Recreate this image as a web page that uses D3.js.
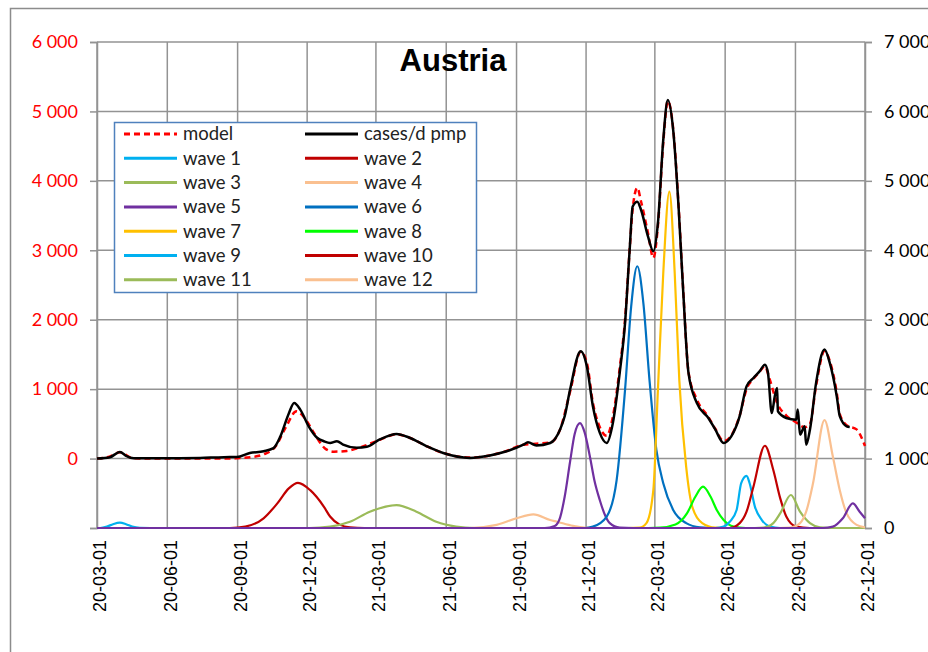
<!DOCTYPE html>
<html>
<head>
<meta charset="utf-8">
<script src="https://cdn.jsdelivr.net/npm/d3@7"></script>
<style>
  body { margin: 0; background: #fff; }
  text { font-family: Lato, "Liberation Sans", sans-serif; }
</style>
</head>
<body>
<svg id="chart" width="928" height="652"></svg>
<script>
// --- data ------------------------------------------------------------
const tickDates = ["2020-03-01", "2020-06-01", "2020-09-01", "2020-12-01", "2021-03-01", "2021-06-01",
  "2021-09-01", "2021-12-01", "2022-03-01", "2022-06-01", "2022-09-01", "2022-12-01"]
const leftTicks = [-1000, 0, 1000, 2000, 3000, 4000, 5000, 6000]
const rightTicks = [0, 1000, 2000, 3000, 4000, 5000, 6000, 7000]

// cases per day per million (left axis)
const cases = [["2020-03-01",0],["2020-03-18",20],["2020-03-31",95],["2020-04-08",40],["2020-04-18",5],["2020-05-22",3],
  ["2020-07-14",10],["2020-08-14",20],["2020-08-31",22],["2020-09-17",80],["2020-10-05",105],["2020-10-18",150],
  ["2020-10-27",320],["2020-11-07",650],["2020-11-14",800],["2020-11-22",705],["2020-12-03",465],["2020-12-14",300],
  ["2020-12-23",250],["2020-12-31",225],["2021-01-09",250],["2021-01-17",200],["2021-02-04",155],["2021-02-17",170],
  ["2021-03-06",275],["2021-03-28",355],["2021-04-14",300],["2021-05-06",180],["2021-05-28",80],["2021-07-02",10],
  ["2021-07-28",45],["2021-08-19",105],["2021-09-10",200],["2021-09-16",235],["2021-09-27",190],["2021-10-15",225],
  ["2021-10-28",420],["2021-11-03",610],["2021-11-10",990],["2021-11-24",1545],["2021-12-02",1330],["2021-12-10",750],
  ["2021-12-19",370],["2021-12-28",225],["2022-01-05",510],["2022-01-14",1235],["2022-01-21",1950],["2022-01-27",3000],
  ["2022-01-31",3630],["2022-02-06",3700],["2022-02-11",3580],["2022-02-20",3200],["2022-02-27",2985],["2022-03-05",3390],
  ["2022-03-12",4590],["2022-03-18",5165],["2022-03-25",4730],["2022-04-01",3630],["2022-04-07",2430],["2022-04-14",1235],
  ["2022-04-25",800],["2022-05-10",585],["2022-05-19",420],["2022-05-30",225],["2022-06-09",320],["2022-06-20",610],
  ["2022-06-29",1040],["2022-07-08",1160],["2022-07-16",1255],["2022-07-23",1350],["2022-07-27",1235],["2022-08-01",655],
  ["2022-08-05",900],["2022-08-08",1015],["2022-08-09",680],["2022-08-20",585],["2022-09-02",560],["2022-09-04",705],
  ["2022-09-07",345],["2022-09-13",465],["2022-09-15",200],["2022-09-20",420],["2022-09-28",1090],["2022-10-09",1570],
  ["2022-10-16",1375],["2022-10-25",900],["2022-10-29",610],["2022-11-07",465],["2022-11-11",455]]

// model (left axis)
const model = [["2020-03-01",0],["2020-03-18",30],["2020-03-31",90],["2020-04-17",5],["2020-05-15",0],["2020-08-22",0],
  ["2020-09-01",5],["2020-09-18",20],["2020-10-05",60],["2020-10-21",180],["2020-11-03",450],["2020-11-17",680],
  ["2020-11-28",580],["2020-12-11",350],["2020-12-24",150],["2021-01-05",100],["2021-01-22",110],["2021-02-08",160],
  ["2021-03-06",270],["2021-03-28",350],["2021-04-14",300],["2021-05-06",180],["2021-05-28",80],["2021-07-02",15],
  ["2021-07-28",45],["2021-08-19",110],["2021-09-10",200],["2021-09-27",215],["2021-10-15",230],["2021-10-28",420],
  ["2021-11-10",960],["2021-11-24",1540],["2021-12-02",1380],["2021-12-10",800],["2021-12-19",450],["2021-12-28",330],
  ["2022-01-05",600],["2022-01-14",1300],["2022-01-21",2000],["2022-01-27",3000],["2022-01-31",3600],["2022-02-06",3900],
  ["2022-02-11",3700],["2022-02-20",3250],["2022-02-27",2890],["2022-03-05",3350],["2022-03-12",4550],["2022-03-18",5150],
  ["2022-03-25",4750],["2022-04-01",3650],["2022-04-07",2450],["2022-04-14",1250],["2022-04-25",850],["2022-05-10",600],
  ["2022-05-19",430],["2022-05-30",250],["2022-06-09",330],["2022-06-20",620],["2022-06-29",1000],["2022-07-08",1150],
  ["2022-07-16",1250],["2022-07-23",1330],["2022-07-29",1150],["2022-08-08",800],["2022-08-20",620],["2022-09-02",520],
  ["2022-09-13",450],["2022-09-20",500],["2022-09-28",1050],["2022-10-09",1550],["2022-10-16",1400],["2022-10-25",950],
  ["2022-10-29",640],["2022-11-07",480],["2022-11-20",420],["2022-12-01",180]]

// single waves (right axis)
const wave1 = [["2020-03-01",0],["2020-03-05",0],["2020-03-14",20],["2020-03-22",55],["2020-03-31",77],["2020-04-08",55],
  ["2020-04-16",20],["2020-04-26",2],["2020-05-10",0],["2022-12-01",0]]
const wave2 = [["2020-03-01",0],["2020-08-22",0],["2020-09-11",20],["2020-10-05",140],["2020-10-23",355],["2020-11-07",570],
  ["2020-11-19",650],["2020-12-05",545],["2020-12-23",305],["2020-12-31",165],["2021-01-13",45],["2021-01-26",10],
  ["2021-02-14",0],["2022-12-01",0]]
const wave3 = [["2020-03-01",0],["2020-12-04",0],["2020-12-31",20],["2021-01-26",90],["2021-02-21",235],["2021-03-28",330],
  ["2021-04-23",235],["2021-05-19",90],["2021-06-14",20],["2021-07-08",0],["2022-12-01",0]]
const wave4 = [["2020-03-01",0],["2021-07-02",0],["2021-08-06",45],["2021-09-01",140],["2021-09-23",197],["2021-10-15",115],
  ["2021-10-24",90],["2021-11-14",30],["2021-11-29",5],["2021-12-19",0],["2022-12-01",0]]
const wave5 = [["2020-03-01",0],["2021-10-08",0],["2021-10-21",30],["2021-10-28",150],["2021-11-03",450],["2021-11-10",950],
  ["2021-11-16",1350],["2021-11-23",1510],["2021-11-29",1380],["2021-12-06",1030],["2021-12-12",680],["2021-12-19",400],
  ["2021-12-26",180],["2022-01-01",70],["2022-01-14",5],["2022-02-01",0],["2022-12-01",0]]
const wave6 = [["2020-03-01",0],["2021-11-29",0],["2021-12-10",20],["2021-12-28",165],["2022-01-10",690],["2022-01-21",1990],
  ["2022-01-29",3190],["2022-02-06",3770],["2022-02-14",3235],["2022-02-22",2130],["2022-03-03",1125],["2022-03-12",645],
  ["2022-03-25",260],["2022-04-11",70],["2022-04-29",10],["2022-05-19",0],["2022-12-01",0]]
const wave7 = [["2020-03-01",0],["2022-01-25",0],["2022-02-09",5],["2022-02-18",70],["2022-02-27",545],["2022-03-05",1990],
  ["2022-03-12",3670],["2022-03-20",4845],["2022-03-27",3670],["2022-04-02",2130],["2022-04-11",880],["2022-04-19",305],
  ["2022-05-02",70],["2022-05-19",5],["2022-06-05",0],["2022-12-01",0]]
const wave8 = [["2020-03-01",0],["2022-02-20",0],["2022-03-08",5],["2022-03-28",50],["2022-04-12",210],["2022-04-23",450],
  ["2022-05-03",595],["2022-05-13",450],["2022-05-21",260],["2022-05-30",115],["2022-06-12",20],["2022-06-28",0],["2022-12-01",0]]
const wave9 = [["2020-03-01",0],["2022-05-19",0],["2022-05-30",20],["2022-06-07",90],["2022-06-16",260],["2022-06-22",645],
  ["2022-06-29",750],["2022-07-03",645],["2022-07-10",305],["2022-07-19",115],["2022-07-30",20],["2022-08-12",0],["2022-12-01",0]]
const wave10 = [["2020-03-01",0],["2022-06-07",0],["2022-06-20",70],["2022-06-29",235],["2022-07-08",595],["2022-07-23",1185],
  ["2022-08-03",835],["2022-08-12",430],["2022-08-20",165],["2022-09-02",20],["2022-09-20",0],["2022-12-01",0]]
const wave11 = [["2020-03-01",0],["2022-07-10",0],["2022-07-21",5],["2022-08-03",70],["2022-08-12",210],["2022-08-26",475],
  ["2022-09-07",235],["2022-09-20",70],["2022-10-03",10],["2022-10-22",0],["2022-12-01",0]]
const wave12 = [["2020-03-01",0],["2022-08-10",0],["2022-08-25",5],["2022-09-07",70],["2022-09-15",235],["2022-09-24",645],
  ["2022-10-09",1555],["2022-10-20",1025],["2022-10-29",545],["2022-11-07",210],["2022-11-20",45],["2022-12-01",10]]
const wave13 = [["2020-03-01",0],["2022-10-07",0],["2022-10-20",20],["2022-11-02",140],["2022-11-15",355],["2022-11-24",235],
  ["2022-12-01",140]]

const waves = [wave1, wave2, wave3, wave4, wave5, wave6, wave7, wave8, wave9, wave10, wave11, wave12, wave13]
const waveNames = ["wave 1", "wave 2", "wave 3", "wave 4", "wave 5", "wave 6", "wave 7", "wave 8",
  "wave 9", "wave 10", "wave 11", "wave 12", null]
const waveColors = ["#00b0f0", "#c00000", "#9bbb59", "#fac090", "#7030a0", "#0070c0", "#ffc000", "#00ff00",
  "#00b0f0", "#c00000", "#9bbb59", "#fac090", "#7030a0"]

// --- drawing ----------------------------------------------------------
const parse = d3.timeParse("%Y-%m-%d")
const fmt = d3.timeFormat("%y-%m-%d")
const plot = { left: 97, right: 865, top: 42, bottom: 528 }
const gridColor = "#939393"

const svg = d3.select("#chart")

// outer chart frame
svg.append("rect")
  .attr("x", 10.5).attr("y", 8.5).attr("width", 940).attr("height", 700)
  .attr("fill", "#fff").attr("stroke", "#8c8c8c").attr("stroke-width", 1.5)

const x = d3.scaleTime()
  .domain([parse(tickDates[0]), parse(tickDates[tickDates.length - 1])])
  .range([plot.left, plot.right])
const yL = d3.scaleLinear().domain([-1000, 6000]).range([plot.bottom, plot.top])
const yR = d3.scaleLinear().domain([0, 7000]).range([plot.bottom, plot.top])

// grid
const grid = svg.append("g").attr("stroke", gridColor).attr("stroke-width", 1.5)
grid.selectAll("line.h").data(rightTicks).join("line")
  .attr("x1", plot.left).attr("x2", plot.right)
  .attr("y1", d => yR(d)).attr("y2", d => yR(d))
grid.selectAll("line.v").data(tickDates).join("line")
  .attr("x1", d => x(parse(d))).attr("x2", d => x(parse(d)))
  .attr("y1", plot.top).attr("y2", plot.bottom)

// left axis (red labels)
const leftAxis = svg.append("g")
  .attr("transform", `translate(${plot.left},0)`)
  .call(d3.axisLeft(yL).tickValues(leftTicks).tickSize(7).tickPadding(12)
    .tickFormat(d => d < 0 ? "" : d3.format(",")(d).replace(/,/g, " ")))
leftAxis.selectAll("line, path").attr("stroke", gridColor).attr("stroke-width", 1.5)
leftAxis.selectAll("text").attr("fill", "#ff0000").style("font-size", "18px").style("font-family", "Lato")

// right axis (black labels)
const rightAxis = svg.append("g")
  .attr("transform", `translate(${plot.right},0)`)
  .call(d3.axisRight(yR).tickValues(rightTicks).tickSize(7).tickPadding(12)
    .tickFormat(d => d3.format(",")(d).replace(/,/g, " ")))
rightAxis.selectAll("line, path").attr("stroke", gridColor).attr("stroke-width", 1.5)
rightAxis.selectAll("text").attr("fill", "#000").style("font-size", "18px").style("font-family", "Lato")

// date labels, rotated
svg.append("g").selectAll("text").data(tickDates).join("text")
  .attr("transform", d => `translate(${x(parse(d)) + 3},540) rotate(-90)`)
  .attr("text-anchor", "end")
  .attr("dy", "0.35em")
  .style("font-family", "'Liberation Sans', Arial, sans-serif")
  .style("font-size", "18px")
  .attr("fill", "#000")
  .text(d => fmt(parse(d)))

// lines
const lineR = d3.line().x(d => x(parse(d[0]))).y(d => yR(d[1])).curve(d3.curveMonotoneX)
const lineL = d3.line().x(d => x(parse(d[0]))).y(d => yL(d[1])).curve(d3.curveMonotoneX)

svg.append("g").selectAll("path").data(waves).join("path")
  .attr("d", lineR)
  .attr("fill", "none")
  .attr("stroke", (d, i) => waveColors[i])
  .attr("stroke-width", 2.2)
  .attr("stroke-linejoin", "round")

svg.append("path").datum(model)
  .attr("d", lineL)
  .attr("fill", "none")
  .attr("stroke", "#ff0000")
  .attr("stroke-width", 2.5)
  .attr("stroke-dasharray", "6,4")

svg.append("path").datum(cases)
  .attr("d", lineL)
  .attr("fill", "none")
  .attr("stroke", "#000")
  .attr("stroke-width", 2.5)
  .attr("stroke-linejoin", "round")

// title
svg.append("text")
  .attr("x", 453).attr("y", 71)
  .attr("text-anchor", "middle")
  .style("font-family", "'Liberation Sans', Arial, sans-serif")
  .style("font-size", "31px").style("font-weight", "bold")
  .text("Austria")

// legend
const legendItems = [{ name: "model", color: "#ff0000", dash: "6,4" }, { name: "cases/d pmp", color: "#000" }]
waveNames.forEach((n, i) => { if (n) legendItems.push({ name: n, color: waveColors[i] }) })

const legend = svg.append("g")
legend.append("rect")
  .attr("x", 114.5).attr("y", 122.5).attr("width", 362).attr("height", 170)
  .attr("fill", "#fff").attr("stroke", "#4f81bd").attr("stroke-width", 1.5)

const item = legend.selectAll("g.item").data(legendItems).join("g")
  .attr("transform", (d, i) => `translate(${i % 2 ? 305 : 124},${134 + Math.floor(i / 2) * 24.3})`)
item.append("line")
  .attr("x1", 0).attr("x2", 53)
  .attr("stroke", d => d.color).attr("stroke-width", 3)
  .attr("stroke-dasharray", d => d.dash || null)
item.append("text")
  .attr("x", 59).attr("dy", "0.35em")
  .style("font-family", "Lato").style("font-size", "18.5px")
  .attr("fill", "#222")
  .text(d => d.name)
</script>
</body>
</html>
